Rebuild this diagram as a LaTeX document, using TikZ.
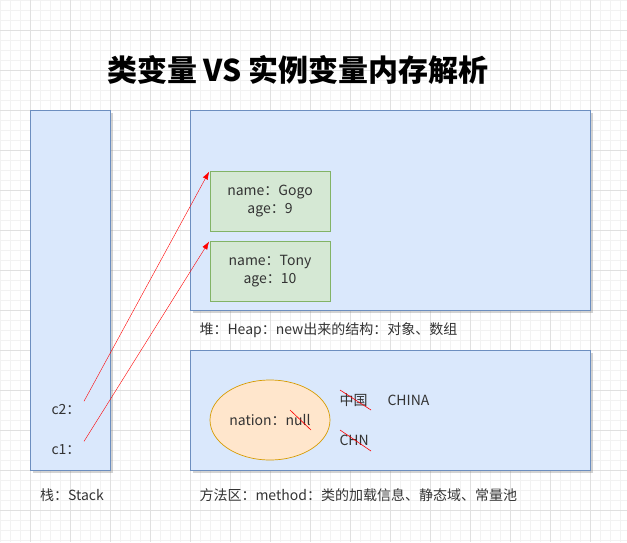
\documentclass[tikz,border=0pt]{standalone}
\usepackage{fontspec}
\setmainfont{Noto Sans CJK SC}
\usetikzlibrary{shadows,calc,arrows.meta,shapes.geometric}
\usepackage{xcolor}
\definecolor{areablue}{HTML}{DAE8FC}
\definecolor{areaedge}{HTML}{6C8EBF}
\definecolor{objgreen}{HTML}{D5E8D4}
\definecolor{objedge}{HTML}{82B366}
\definecolor{statfill}{HTML}{FFE6CC}
\definecolor{statedge}{HTML}{D79B00}
\definecolor{txtgray}{HTML}{333333}

\begin{document}
\begin{tikzpicture}[x=1pt,y=-1pt,font=\fontsize{14}{18}\selectfont,text=txtgray]
  \tikzstyle{area}=[rectangle,fill=areablue,draw=areaedge,line width=0.7pt,
    drop shadow={opacity=0.35,shadow xshift=3pt,shadow yshift=-3pt}]
  \tikzstyle{obj}=[rectangle,fill=objgreen,draw=objedge,line width=0.7pt,
    minimum width=120pt,minimum height=60pt,align=center]
  \tikzstyle{ref}=[red,-{Latex[length=8pt,width=5.5pt]},shorten >=1pt]
  \tikzstyle{strike}=[red,line width=0.6pt]

  \useasboundingbox (0,0) rectangle (627,542);
  % grid
  \foreach \x in {0,10,...,620} \draw[black!5] (\x,0) -- (\x,542);
  \foreach \y in {0,10,...,540} \draw[black!5] (0,\y) -- (627,\y);
  \foreach \x in {30,70,...,610} \draw[black!12] (\x,0) -- (\x,542);
  \foreach \y in {30,70,...,510} \draw[black!12] (0,\y) -- (627,\y);

  % title
  \node[text=black,font=\fontsize{30}{36}\selectfont\bfseries] (title) at (298,70) {类变量 VS 实例变量内存解析};

  % areas
  \node[area,minimum width=80pt,minimum height=360pt] (stack) at (70,290) {};
  \node[area,minimum width=400pt,minimum height=200pt] (heap) at (390,210) {};
  \node[area,minimum width=400pt,minimum height=120pt] (method) at (390,410) {};

  % objects in heap
  \node[obj] (gogo) at (270,201) {name：Gogo\\age：9};
  \node[obj] (tony) at (270,271) {name：Tony\\age：10};

  % static field
  \node[ellipse,fill=statfill,draw=statedge,line width=0.7pt,inner sep=0pt,
    minimum width=120pt,minimum height=80pt] (nation) at (270,420) {nation：null};
  \node[anchor=west] (zh) at (336,400) {中国};
  \node[anchor=west] (china) at (384,400) {CHINA};
  \node[anchor=west] (chn) at (336,440) {CHN};
  \draw[strike] (340,390) -- (371,410);
  \draw[strike] (340,430) -- (371,451);
  \draw[strike] (290,410) -- (311,430);

  % references on stack
  \node (c2) at (66,410) {c2：};
  \node (c1) at (66,450) {c1：};
  \draw[ref] (c2.north east) -- (gogo.north west);
  \draw[ref] (c1.north east) -- (tony.north west);

  % captions
  \node (lstack) at (72,495) {栈：Stack};
  \node[anchor=west] (lheap) at (196,330) {堆：Heap：new出来的结构：对象、数组};
  \node[anchor=west] (lmethod) at (196,495) {方法区：method：类的加载信息、静态域、常量池};
\end{tikzpicture}
\end{document}
